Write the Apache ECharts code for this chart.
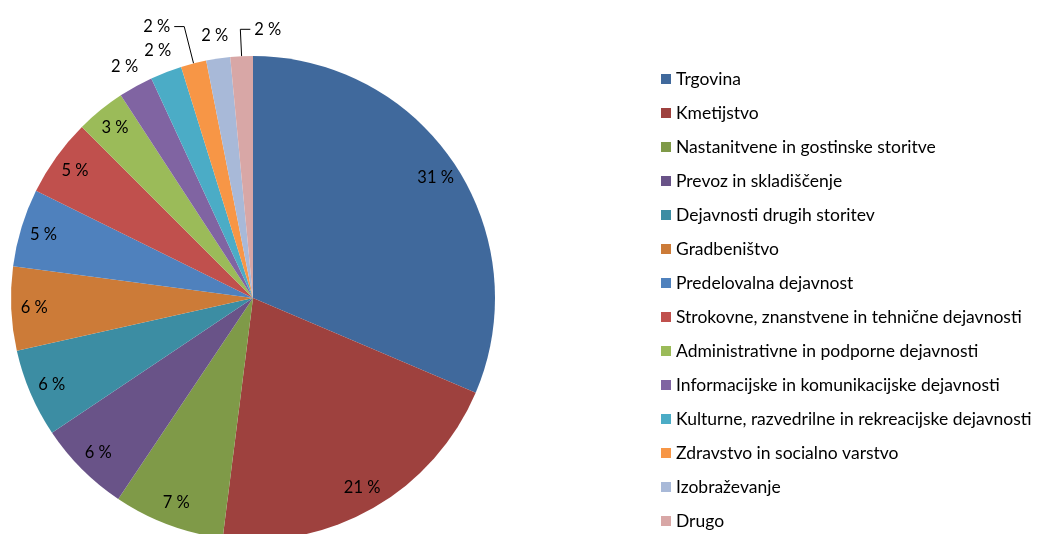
<!DOCTYPE html>
<html>
<head>
<meta charset="utf-8">
<script src="https://cdn.jsdelivr.net/npm/echarts@6/dist/echarts.min.js"></script>
<style>
html,body{margin:0;padding:0;background:#fff;}
#chart{width:1038px;height:534px;}
</style>
</head>
<body>
<div id="chart"></div>
<script>
var categories = [
  "Trgovina",
  "Kmetijstvo",
  "Nastanitvene in gostinske storitve",
  "Prevoz in skladiščenje",
  "Dejavnosti drugih storitev",
  "Gradbeništvo",
  "Predelovalna dejavnost",
  "Strokovne, znanstvene in tehnične dejavnosti",
  "Administrativne in podporne dejavnosti",
  "Informacijske in komunikacijske dejavnosti",
  "Kulturne, razvedrilne in rekreacijske dejavnosti",
  "Zdravstvo in socialno varstvo",
  "Izobraževanje",
  "Drugo"
];
var shares = [31.4, 20.6, 7.4, 6.2, 5.9, 5.6, 5.2, 5.2, 3.3, 2.3, 2.1, 1.7, 1.6, 1.5];
var colors = ["#40699C", "#9E413E", "#7F9A48", "#695388", "#3C8DA3", "#CC7B38",
              "#4F81BD", "#C0504D", "#9BBB59", "#8064A2", "#4BACC6", "#F79646",
              "#A8B9D8", "#D8A7A6"];
// label placement kind per slice: in = inside end, out = outside, line = outside with leader line
var labelKinds = ["in","in","in","in","in","in","in","in","in","out","out","line","out","line"];
var leaderLengths = {"Zdravstvo in socialno varstvo": 38, "Drugo": 27};
var lineFlipRight = ["Drugo"];

var FONT = "Lato";
var CX = 253, CY = 298, R = 242;

function pct(p){ return Math.round(p.percent) + " %"; }

var mainData = categories.map(function(n,i){
  var isLine = labelKinds[i] === "line";
  var item = {
    name: n, value: shares[i],
    itemStyle: {color: colors[i]},
    label: {show: isLine},
    labelLine: {show: isLine}
  };
  if (isLine) item.labelLine.length = leaderLengths[n];
  return item;
});
function ringData(kind){
  return categories.map(function(n,i){
    return {
      name: n, value: shares[i],
      itemStyle: {color: "rgba(0,0,0,0)"},
      label: {show: labelKinds[i] === kind}
    };
  });
}

var chart = echarts.init(document.getElementById("chart"), null, {renderer: "canvas"});
chart.setOption({
  animation: false,
  color: colors,
  legend: {
    data: categories,
    orient: "vertical",
    left: 661,
    top: 69,
    height: 520,
    padding: 0,
    itemWidth: 10,
    itemHeight: 10,
    itemGap: 14,
    icon: "rect",
    selectedMode: false,
    textStyle: {fontFamily: FONT, fontSize: 17.5, color: "#000", lineHeight: 20}
  },
  series: [
    {
      type: "pie",
      center: [CX, CY],
      radius: [0, R],
      startAngle: 90,
      clockwise: true,
      avoidLabelOverlap: false,
      silent: true,
      data: mainData,
      label: {
        position: "outside",
        formatter: pct,
        fontFamily: FONT, fontSize: 16.5, color: "#000",
        distanceToLabelLine: 4,
        padding: [0, 0, 10, 0]
      },
      labelLine: {
        length: 28, length2: 10, smooth: false,
        lineStyle: {color: "#000", width: 1}
      },
      labelLayout: function(p){
        if (p.seriesIndex !== 0) return {};
        var name = categories[p.dataIndex];
        var pts = p.labelLinePoints;
        if (lineFlipRight.indexOf(name) >= 0 && pts) {
          var len2 = pts[1][0] - pts[2][0];
          var x3 = pts[1][0] + len2;
          return {
            x: x3 + 4,
            align: "left",
            labelLinePoints: [pts[0], pts[1], [x3, pts[2][1]]]
          };
        }
        return {};
      },
      emphasis: {disabled: true}
    },
    {
      type: "pie",
      center: [CX, CY],
      radius: [190, R],
      startAngle: 90,
      clockwise: true,
      silent: true,
      avoidLabelOverlap: false,
      data: ringData("in"),
      label: {position: "inside", formatter: pct, fontFamily: FONT, fontSize: 16.5, color: "#000"},
      labelLine: {show: false},
      emphasis: {disabled: true}
    },
    {
      type: "pie",
      center: [CX, CY],
      radius: [R, 282],
      startAngle: 90,
      clockwise: true,
      silent: true,
      avoidLabelOverlap: false,
      data: ringData("out"),
      label: {position: "inside", formatter: pct, fontFamily: FONT, fontSize: 16.5, color: "#000"},
      labelLine: {show: false},
      emphasis: {disabled: true}
    }
  ]
});
</script>
</body>
</html>
